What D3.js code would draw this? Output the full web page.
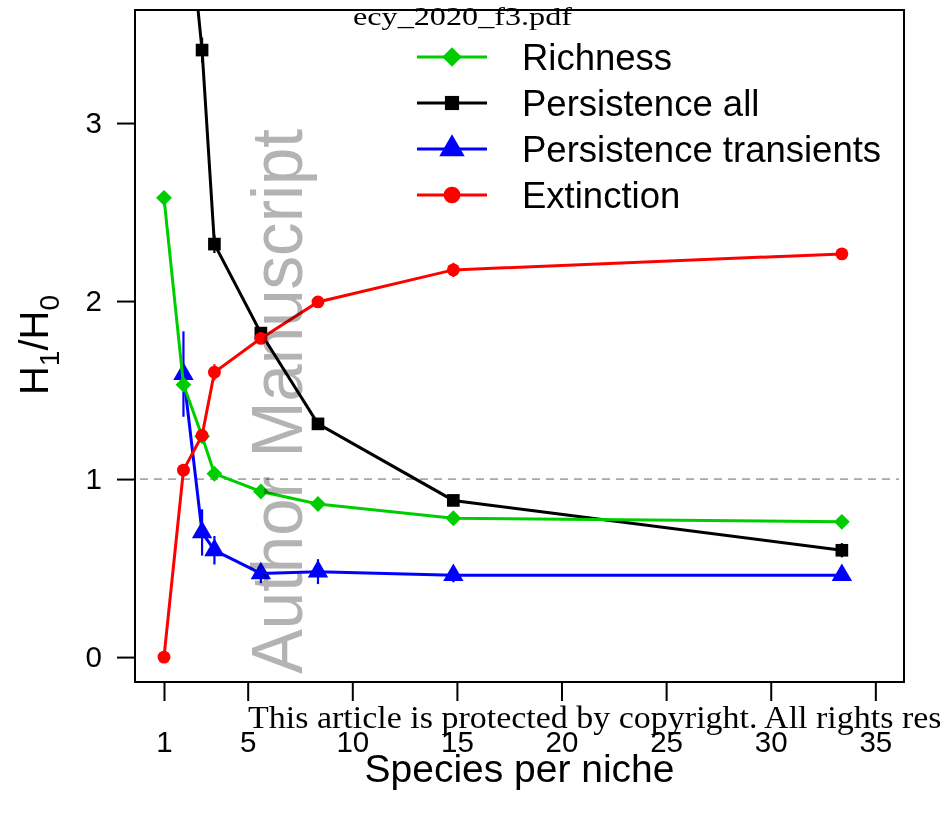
<!DOCTYPE html>
<html>
<head>
<meta charset="utf-8">
<script src="https://cdn.jsdelivr.net/npm/d3@7"></script>
<style>
  body { margin: 0; background: #fff; }
  svg { display: block; }
  text { font-family: "Liberation Sans", Arial, sans-serif; }
</style>
</head>
<body>
<div id="chart"></div>
<script>
// species per niche (x positions of the points)
var speciesPerNiche = [1, 1.93, 2.82, 3.41, 5.63, 8.36, 14.83, 33.4];

// H1/H0 per series (null = no point)
var richness      = [2.58, 1.53, 1.24, 1.03, 0.93, 0.86, 0.78, 0.76];
var persistAll    = [null, 4.45, 3.41, 2.32, 1.82, 1.31, 0.88, 0.60];
var persistTrans  = [null, 1.59, 0.70, 0.60, 0.47, 0.48, 0.46, 0.46];
var extinction    = [0, 1.05, 1.245, 1.60, 1.79, 1.995, 2.175, 2.265];

// half widths of the error bars
var richnessErr     = [0.01, 0.02, 0.02, 0.01, 0.01, 0.01, 0.01, 0.01];
var persistAllErr   = [null, 0.3, 0.07, 0.05, 0.03, 0.03, 0.02, 0.04];
var persistTransErr = [null, 0.24, 0.13, 0.08, 0.055, 0.07, 0.04, 0.03];
var extinctionErr   = [0, 0.01, 0.02, 0.045, 0.02, 0.02, 0.04, 0.01];

var seriesNames = ["Richness", "Persistence all", "Persistence transients", "Extinction"];
var xTicks = [1, 5, 10, 15, 20, 25, 30, 35];
var yTicks = [0, 1, 2, 3];

var svgWidth = 940;
var svgHeight = 817;

var plot = { left: 135, right: 904, top: 10, bottom: 682 };

var svg = d3.select("#chart")
  .append("svg")
  .attr("width", svgWidth)
  .attr("height", svgHeight);

var xScale = d3.scaleLinear().domain([-0.386, 36.37]).range([plot.left, plot.right]);
var yScale = d3.scaleLinear().domain([-0.14, 3.635]).range([plot.bottom, plot.top]);

svg.append("clipPath").attr("id", "plotclip")
  .append("rect")
  .attr("x", plot.left).attr("y", plot.top)
  .attr("width", plot.right - plot.left).attr("height", plot.bottom - plot.top);

// reference line at 1
svg.append("line")
  .attr("clip-path", "url(#plotclip)")
  .attr("x1", plot.left + 5).attr("x2", plot.right - 5)
  .attr("y1", yScale(1)).attr("y2", yScale(1))
  .attr("stroke", "#a8a8a8")
  .attr("stroke-width", 1.8)
  .attr("stroke-dasharray", "8,6");

// series: drawn in this order, extinction on top
var series = [
  { name: seriesNames[1], vals: persistAll, err: persistAllErr, color: "#000000", shape: "square" },
  { name: seriesNames[2], vals: persistTrans, err: persistTransErr, color: "#0000ff", shape: "triangle" },
  { name: seriesNames[0], vals: richness, err: richnessErr, color: "#00cd00", shape: "diamond" },
  { name: seriesNames[3], vals: extinction, err: extinctionErr, color: "#ff0000", shape: "circle" }
];

var symbolTypes = {
  square: d3.symbolSquare,
  triangle: d3.symbolTriangle,
  diamond: d3.symbolSquare,   // rotated 45 degrees below
  circle: d3.symbolCircle
};
var plotSizes = { square: 160, triangle: 180, diamond: 125, circle: 130 };
var legendSizes = { square: 200, triangle: 280, diamond: 190, circle: 220 };

function markerTransform(shape, x, y) {
  return `translate(${x},${y})` + (shape == "diamond" ? " rotate(45)" : "");
}

var line = d3.line()
  .defined(d => d.y != null)
  .x(d => xScale(d.x))
  .y(d => yScale(d.y));

var plotG = svg.append("g").attr("clip-path", "url(#plotclip)");

series.forEach(function (s) {
  var pts = speciesPerNiche.map(function (x, i) {
    return { x: x, y: s.vals[i], e: s.err[i] };
  });
  var g = plotG.append("g");

  g.append("path")
    .datum(pts)
    .attr("d", line)
    .attr("fill", "none")
    .attr("stroke", s.color)
    .attr("stroke-width", 3);

  g.selectAll(".err")
    .data(pts.filter(d => d.y != null && d.e))
    .enter()
    .append("line")
    .attr("x1", d => xScale(d.x)).attr("x2", d => xScale(d.x))
    .attr("y1", d => yScale(d.y - d.e)).attr("y2", d => yScale(d.y + d.e))
    .attr("stroke", s.color)
    .attr("stroke-width", 2.2);

  g.selectAll(".pt")
    .data(pts.filter(d => d.y != null))
    .enter()
    .append("path")
    .attr("d", d3.symbol().type(symbolTypes[s.shape]).size(plotSizes[s.shape]))
    .attr("transform", d => markerTransform(s.shape, xScale(d.x), yScale(d.y)))
    .attr("fill", s.color);
});

// box
svg.append("rect")
  .attr("x", plot.left).attr("y", plot.top)
  .attr("width", plot.right - plot.left).attr("height", plot.bottom - plot.top)
  .attr("fill", "none")
  .attr("stroke", "#000")
  .attr("stroke-width", 2);

// axes
var xAxis = d3.axisBottom(xScale).tickValues(xTicks).tickSize(19).tickPadding(30)
  .tickFormat(d3.format("d"));
var yAxis = d3.axisLeft(yScale).tickValues(yTicks).tickSize(18).tickPadding(15)
  .tickFormat(d3.format("d"));

var gx = svg.append("g")
  .attr("transform", `translate(0, ${plot.bottom})`)
  .call(xAxis);
var gy = svg.append("g")
  .attr("transform", `translate(${plot.left}, 0)`)
  .call(yAxis);

[gx, gy].forEach(function (g) {
  g.select(".domain").remove();
  g.selectAll(".tick line").attr("stroke", "#000").attr("stroke-width", 2);
  g.selectAll(".tick text")
    .attr("fill", "#000")
    .style("font-size", "29.5px")
    .style("font-family", "'Liberation Sans', Arial, sans-serif");
});

// axis titles
svg.append("text")
  .attr("x", (plot.left + plot.right) / 2)
  .attr("y", 782)
  .attr("text-anchor", "middle")
  .style("font-size", "39px")
  .text("Species per niche");

var yTitle = svg.append("text")
  .attr("transform", "translate(48, 345) rotate(-90)")
  .attr("text-anchor", "middle")
  .style("font-size", "40px");
yTitle.append("tspan").text("H");
yTitle.append("tspan").attr("dy", 11).style("font-size", "28px").text("1");
yTitle.append("tspan").attr("dy", -11).text("/H");
yTitle.append("tspan").attr("dy", 11).style("font-size", "28px").text("0");

// legend
var legendOrder = [2, 0, 1, 3];
var legend = svg.append("g");
legendOrder.forEach(function (si, i) {
  var s = series[si];
  var cy = 57 + i * 46;
  legend.append("line")
    .attr("x1", 417).attr("x2", 487)
    .attr("y1", cy).attr("y2", cy)
    .attr("stroke", s.color)
    .attr("stroke-width", 3);
  legend.append("path")
    .attr("d", d3.symbol().type(symbolTypes[s.shape]).size(legendSizes[s.shape]))
    .attr("transform", markerTransform(s.shape, 452, cy))
    .attr("fill", s.color);
  legend.append("text")
    .attr("x", 522)
    .attr("y", cy)
    .attr("dy", "0.36em")
    .style("font-size", "36.5px")
    .text(s.name);
});

// watermark and stamps
svg.append("text")
  .attr("transform", "translate(302, 674) rotate(-90)")
  .attr("textLength", 545)
  .attr("lengthAdjust", "spacingAndGlyphs")
  .style("font-size", "72px")
  .style("mix-blend-mode", "multiply")
  .attr("fill", "#b3b3b3")
  .text("Author Manuscript");

svg.append("text")
  .attr("x", 353)
  .attr("y", 25)
  .attr("textLength", 219)
  .attr("lengthAdjust", "spacingAndGlyphs")
  .style("font-family", "'Liberation Serif', 'DejaVu Serif', serif")
  .style("font-size", "26px")
  .text("ecy_2020_f3.pdf");

svg.append("text")
  .attr("x", 248)
  .attr("y", 728)
  .attr("textLength", 769)
  .attr("lengthAdjust", "spacingAndGlyphs")
  .style("font-family", "'Liberation Serif', 'DejaVu Serif', serif")
  .style("font-size", "31px")
  .text("This article is protected by copyright. All rights reserved");
</script>
</body>
</html>
